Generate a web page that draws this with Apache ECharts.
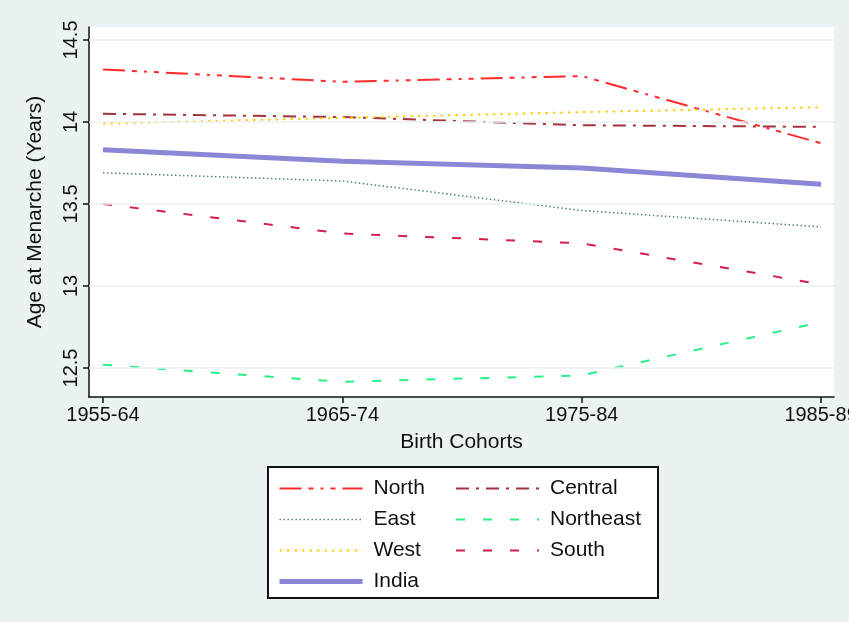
<!DOCTYPE html>
<html>
<head>
<meta charset="utf-8">
<script src="https://cdn.jsdelivr.net/npm/echarts@6/dist/echarts.min.js"></script>
<style>
html,body{margin:0;padding:0;background:#eaf2f3;}
#c{width:849px;height:622px;}
</style>
</head>
<body>
<div id="c"></div>
<script>
// ---- data ----
const categories = ['1955-64', '1965-74', '1975-84', '1985-89'];
const north     = [14.32, 14.245, 14.28, 13.87];
const central   = [14.05, 14.03, 13.98, 13.97];
const east      = [13.69, 13.64, 13.46, 13.36];
const northeast = [12.52, 12.415, 12.455, 12.78];
const west      = [13.99, 14.025, 14.06, 14.09];
const south     = [13.50, 13.32, 13.26, 13.01];
const india     = [13.83, 13.76, 13.72, 13.62];
const yTicks    = [12.5, 13, 13.5, 14, 14.5];
const xTicks    = [0, 1, 2, 3];

const FONT = 'Liberation Sans, Arial, sans-serif';
const pts = arr => arr.map((v, i) => [i, v]);

const styles = {
  North:     { color: '#ff2a2a', width: 2,   type: [22, 7, 5, 7, 3, 7, 5, 7] },
  Central:   { color: '#a2333f', width: 2,   type: [13, 7, 3, 7] },
  East:      { color: '#4f8475', width: 1.5, type: [1.5, 2.5] },
  Northeast: { color: '#2af08a', width: 2,   type: [9, 18] },
  West:      { color: '#ffcc11', width: 2,   type: [2.5, 5] },
  South:     { color: '#d21f4b', width: 2,   type: [9, 18] },
  India:     { color: '#8c86d6', width: 5,   type: 'solid' }
};

function mkSeries(name, data, z) {
  const s = styles[name];
  return {
    name: name, type: 'line', data: pts(data), symbol: 'none', showSymbol: false, smooth: false,
    lineStyle: { color: s.color, width: s.width, type: s.type }, itemStyle: { color: s.color },
    z: z || 3, silent: true, animation: false
  };
}

const series = [
  mkSeries('North', north),
  mkSeries('Central', central),
  mkSeries('East', east),
  mkSeries('Northeast', northeast),
  mkSeries('West', west),
  mkSeries('South', south),
  mkSeries('India', india, 4)
];
// gridlines at tick values
series[0].markLine = {
  silent: true, symbol: 'none', animation: false, label: { show: false },
  lineStyle: { color: '#eaf2f3', width: 1.5, type: 'solid' },
  data: yTicks.map(v => ({ yAxis: v }))
};

function legendItems(names) {
  return names.map(n => ({
    name: n,
    itemStyle: { opacity: 0 },
    lineStyle: { color: styles[n].color, width: styles[n].width, type: styles[n].type, opacity: 1 }
  }));
}

const legendBase = {
  orient: 'vertical', top: 478, padding: 0,
  itemWidth: 83, itemHeight: 20, itemGap: 10,
  textStyle: { fontFamily: FONT, fontSize: 21, color: '#111', lineHeight: 20, padding: [0, 0, 0, 6] },
  selectedMode: false
};

const chart = echarts.init(document.getElementById('c'), null, { renderer: 'canvas' });
chart.setOption({
  backgroundColor: '#eaf2f3',
  animation: false,
  grid: {
    left: 89, right: 15, top: 27, bottom: 225,
    containLabel: false, outerBoundsMode: 'none',
    show: true, backgroundColor: '#ffffff', borderWidth: 0
  },
  xAxis: {
    type: 'value', min: -0.0585, max: 3.054,
    name: 'Birth Cohorts', nameLocation: 'middle', nameGap: 35,
    nameTextStyle: { fontFamily: FONT, fontSize: 21, color: '#111' },
    axisLine: { show: true, onZero: false, lineStyle: { color: '#111', width: 1.5 } },
    axisTick: { show: true, customValues: xTicks, length: 6, lineStyle: { color: '#111', width: 1.5 } },
    axisLabel: {
      customValues: xTicks, fontFamily: FONT, fontSize: 20, color: '#111', margin: 8,
      formatter: v => categories[Math.round(v)]
    },
    splitLine: { show: false }
  },
  yAxis: {
    type: 'value', min: 12.323, max: 14.579,
    name: 'Age at Menarche (Years)', nameLocation: 'middle', nameGap: 43, nameRotate: 90,
    nameTextStyle: { fontFamily: FONT, fontSize: 21, color: '#111' },
    axisLine: { show: true, onZero: false, lineStyle: { color: '#111', width: 1.5 } },
    axisTick: { show: true, customValues: yTicks, length: 6, lineStyle: { color: '#111', width: 1.5 } },
    axisLabel: {
      customValues: yTicks, rotate: 90, fontFamily: FONT, fontSize: 20, color: '#111', margin: 8,
      formatter: v => String(v)
    },
    splitLine: { show: false }
  },
  legend: [
    Object.assign({}, legendBase, { left: 277, data: legendItems(['North', 'East', 'West', 'India']) }),
    Object.assign({}, legendBase, { left: 455, data: legendItems(['Central', 'Northeast', 'South']) })
  ],
  graphic: [
    {
      type: 'rect', left: 267, top: 466, z: -1, silent: true,
      shape: { width: 390, height: 131 },
      style: { fill: '#ffffff', stroke: '#111', lineWidth: 2 }
    }
  ],
  series: series
});
</script>
</body>
</html>
